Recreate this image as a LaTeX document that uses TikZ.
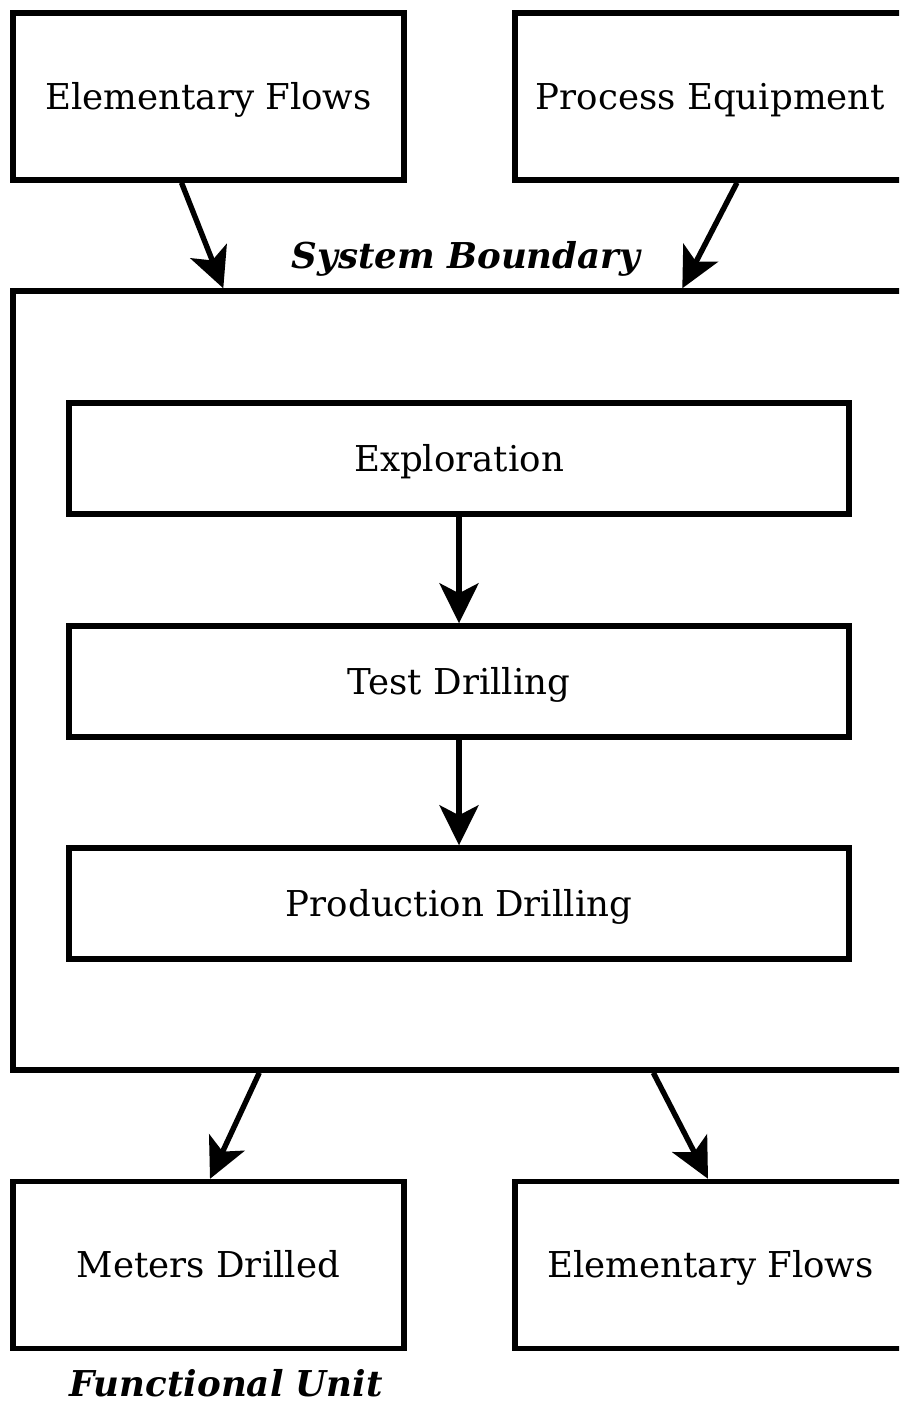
\documentclass[tikz,border=0pt]{standalone}
\usepackage{fontspec}
\setmainfont{DejaVu Serif}
\usetikzlibrary{arrows.meta,positioning,calc}

\tikzset{
	box/.style={draw, line width=2.7pt, minimum width=195.5pt, minimum height=83.5pt, inner sep=0pt, text height=17pt, text depth=4.2pt, font=\fontsize{17.8}{21}\selectfont},
	stage/.style={box, minimum width=390pt, minimum height=55.5pt},
	flow/.style={-{Stealth[length=20pt,width=19.5pt,inset=5pt]}, line width=2.7pt},
	caption/.style={font=\fontsize{17.8}{21}\selectfont\bfseries\itshape}
}

\begin{document}
\begin{tikzpicture}[x=0.5pt,y=-0.5pt]
		\useasboundingbox (0,0) rectangle (899,1402);
		\clip (0,0) rectangle (899,1402);

		\node [box] (inflows) at (208.5,96.5) {Elementary Flows};
		\node [box] (equip) at (710.5,96.5) {Process Equipment};

		\node [caption] (sblabel) at (466,259) {System Boundary};
		\node [draw, line width=2.7pt, minimum width=446pt, minimum height=389.5pt] (sb) at (459,680.5) {};

		\node [stage] (expl) at (459,458.5) {Exploration};
		\node [stage] (test) at (459,681.5) {Test Drilling};
		\node [stage] (prod) at (459,903.5) {Production Drilling};

		\node [box] (meters) at (208.5,1265) {Meters Drilled};
		\node [box] (outflows) at (710.5,1265) {Elementary Flows};
		\node [caption] (fulabel) at (226,1383) {Functional Unit};

		\draw [flow] ($(inflows.south)+(-27,0)$) -- ($(sb.north west)+(213,0)$);
		\draw [flow] ($(equip.south)+(26.5,0)$) -- ($(sb.north west)+(672,0)$);

		\draw [flow] (expl) -- (test);
		\draw [flow] (test) -- (prod);

		\draw [flow] ($(sb.south west)+(249,0)$) -- ($(meters.north)+(1.5,0)$);
		\draw [flow] ($(sb.south west)+(643,0)$) -- ($(outflows.north)+(-2.5,0)$);
	\end{tikzpicture}
\end{document}
